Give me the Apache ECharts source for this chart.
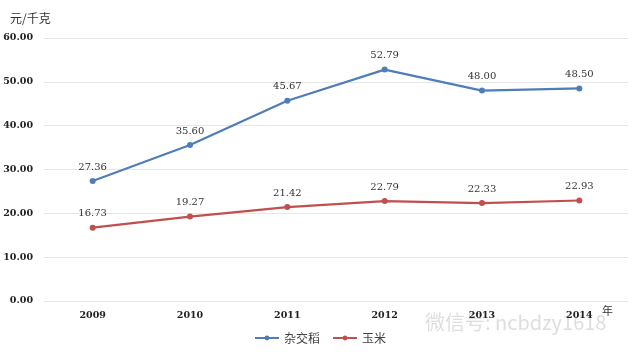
<!DOCTYPE html>
<html><head><meta charset="utf-8">
<script src="https://cdn.jsdelivr.net/npm/echarts@6/dist/echarts.min.js"></script>
<style>html,body{margin:0;padding:0;background:#fff}#c{width:640px;height:357px}</style>
</head><body><div id="c"></div>
<script>
var categories = ['2009','2010','2011','2012','2013','2014'];
var rice = [27.36, 35.60, 45.67, 52.79, 48.00, 48.50];
var corn = [16.73, 19.27, 21.42, 22.79, 22.33, 22.93];
var seriesNames = ['杂交稻','玉米'];
var yTicks = {min:0, max:60, interval:10};
var unitLabel = '元/千克';
var xUnit = '年';
var watermark = '微信号: ncbdzy1618';

var font = '"DejaVu Serif", "Noto Sans CJK SC", serif';
var chart = echarts.init(document.getElementById('c'), null, {renderer:'canvas'});
var lbl = {show:true, position:'top', distance:6, color:'#333', fontSize:10, fontFamily:font,
  formatter:function(p){return p.value.toFixed(2);}};
chart.setOption({
  animation:false,
  textStyle:{fontFamily:font},
  grid:{left:44, right:12, top:38, bottom:56},
  legend:{bottom:8, left:'center', itemWidth:24, itemHeight:6, itemGap:12,
    textStyle:{fontSize:12, color:'#444', fontFamily:'"Noto Sans CJK SC"'},
    data:seriesNames},
  xAxis:{type:'category', data:categories, boundaryGap:true,
    axisLine:{show:false}, axisTick:{show:false},
    axisLabel:{color:'#222', fontSize:9.5, fontWeight:'bold', margin:10}},
  yAxis:{type:'value', min:yTicks.min, max:yTicks.max, interval:yTicks.interval,
    axisLine:{show:false}, axisTick:{show:false},
    splitLine:{lineStyle:{color:'#e6e6e6'}},
    axisLabel:{color:'#222', fontSize:9.5, fontWeight:'bold', margin:11,
      formatter:function(v){return v.toFixed(2);}}},
  graphic:[
    {type:'text', left:10, top:12, style:{text:unitLabel, fill:'#333', font:'12px "Noto Sans CJK SC"'}},
    {type:'text', left:602, top:305, style:{text:xUnit, fill:'#333', font:'11px "Noto Sans CJK SC"'}},
    {type:'text', left:425, top:312, style:{text:watermark, fill:'rgba(190,190,190,0.5)', font:'20px "Noto Sans CJK SC"'}}
  ],
  series:[
    {name:seriesNames[0], type:'line', data:rice, symbol:'circle', symbolSize:6,
     itemStyle:{color:'#4f7db8'}, lineStyle:{width:2.2, color:'#4f7db8'}, label:lbl},
    {name:seriesNames[1], type:'line', data:corn, symbol:'circle', symbolSize:6,
     itemStyle:{color:'#c0504d'}, lineStyle:{width:2.2, color:'#c0504d'}, label:lbl}
  ]
});
</script></body></html>
